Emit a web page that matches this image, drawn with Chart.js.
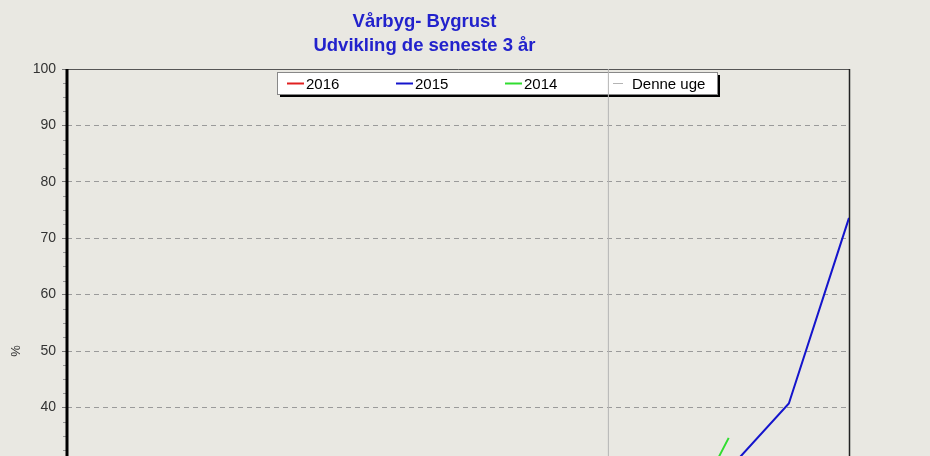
<!DOCTYPE html>
<html>
<head>
<meta charset="utf-8">
<script src="https://cdn.jsdelivr.net/npm/chart.js@4.4.1/dist/chart.umd.min.js"></script>
<style>
    html, body { margin: 0; padding: 0; background: #e9e8e2; overflow: hidden; }
    #wrap { width: 930px; height: 663px; }
</style>
</head>
<body>
<div id="wrap"><canvas id="rustChart" width="930" height="663"></canvas></div>
<script>
    // Uger og angreb i %
    const weeks = [20, 21, 22, 23, 24, 25, 26, 27, 28, 29, 30, 31, 32, 33];
    const values_2016 = [0, 0, 0, 1, 1, 2, 3, 4, 5, 6, null, null, null, null];
    const values_2015 = [0, 0, 1, 2, 3, 5, 7, 9, 12, 16, 22, 29, 40.7, 73.6];
    const values_2014 = [0, 0, 0, 1, 2, 3, 4, 6, 8, 10, 14, 34.6, null, null];
    const this_week = 29;
    const y_ticks = [0, 10, 20, 30, 40, 50, 60, 70, 80, 90, 100];

    function to_points(values) {
        return weeks.map(function (w, i) { return { x: w, y: values[i] }; });
    }

    const font_name = "'Liberation Sans', Arial, sans-serif";

    // Tegner ramme, små tick-mærker og legendeboksen
    const frame_plugin = {
        id: 'frame_plugin',
        beforeDatasetsDraw(chart) {
            const ctx = chart.ctx;
            const a = chart.chartArea;
            const y = chart.scales.y;
            ctx.save();
            // minor ticks
            ctx.strokeStyle = '#999';
            ctx.lineWidth = 1;
            for (let v = 2.5; v < 100; v += 2.5) {
                if (v % 10 === 0) continue;
                const py = Math.round(y.getPixelForValue(v)) + 0.5;
                ctx.beginPath();
                ctx.moveTo(a.left - 4, py);
                ctx.lineTo(a.left, py);
                ctx.stroke();
            }
            // top and right frame
            ctx.strokeStyle = '#555';
            ctx.lineWidth = 1;
            ctx.beginPath();
            ctx.moveTo(a.left, a.top + 0.5);
            ctx.lineTo(a.right + 0.5, a.top + 0.5);
            ctx.stroke();
            ctx.strokeStyle = '#222';
            ctx.lineWidth = 1.5;
            ctx.beginPath();
            ctx.moveTo(a.right + 0.5, a.top);
            ctx.lineTo(a.right + 0.5, a.bottom);
            ctx.stroke();

            // legend box
            const bx = 277, by = 72, bw = 440, bh = 22;
            ctx.fillStyle = '#000';
            ctx.fillRect(bx + 3, by + 3, bw, bh);
            ctx.fillStyle = '#fff';
            ctx.fillRect(bx, by, bw, bh);
            ctx.strokeStyle = '#888';
            ctx.lineWidth = 1;
            ctx.strokeRect(bx + 0.5, by + 0.5, bw, bh);

            const item_x = [287, 396, 505, 613];
            const line_len = [17, 17, 17, 10];
            ctx.font = '15px ' + font_name;
            ctx.textBaseline = 'middle';
            chart.data.datasets.forEach(function (ds, i) {
                const ly = by + 11.5;
                ctx.strokeStyle = ds.borderColor;
                ctx.lineWidth = i === 3 ? 1 : 2;
                ctx.beginPath();
                ctx.moveTo(item_x[i], ly);
                ctx.lineTo(item_x[i] + line_len[i], ly);
                ctx.stroke();
                ctx.fillStyle = '#000';
                ctx.fillText(ds.label, item_x[i] + line_len[i] + (i === 3 ? 9 : 2), ly + 1);
            });
            ctx.restore();
        },
        afterDraw(chart) {
            // solid left axis
            const ctx = chart.ctx;
            const a = chart.chartArea;
            ctx.save();
            ctx.strokeStyle = '#000';
            ctx.lineWidth = 3;
            ctx.beginPath();
            ctx.moveTo(a.left, a.top);
            ctx.lineTo(a.left, a.bottom);
            ctx.stroke();
            ctx.restore();
        }
    };

    new Chart(document.getElementById("rustChart"), {
        type: "line",
        data: {
            datasets: [
                {
                    label: "2016",
                    data: to_points(values_2016),
                    borderColor: "#e02020",
                    borderWidth: 2,
                    pointRadius: 0
                },
                {
                    label: "2015",
                    data: to_points(values_2015),
                    borderColor: "#1414cc",
                    borderWidth: 2,
                    pointRadius: 0
                },
                {
                    label: "2014",
                    data: to_points(values_2014),
                    borderColor: "#30dd30",
                    borderWidth: 2,
                    pointRadius: 0
                },
                {
                    label: "Denne uge",
                    data: [{ x: this_week, y: 0 }, { x: this_week, y: 100 }],
                    borderColor: "#b4b4b4",
                    borderWidth: 1,
                    pointRadius: 0
                }
            ]
        },
        options: {
            responsive: false,
            animation: false,
            layout: { padding: { left: 0, right: 81, top: 0, bottom: 0 } },
            plugins: {
                legend: { display: false },
                tooltip: { enabled: false },
                title: {
                    display: true,
                    text: ["Vårbyg- Bygrust", "Udvikling de seneste 3 år"],
                    color: "#2222cc",
                    font: { family: font_name, size: 18.5, weight: "bold", lineHeight: 24 / 18.5 },
                    padding: { top: 10, bottom: 11 }
                }
            },
            scales: {
                x: {
                    type: "linear",
                    min: weeks[0],
                    max: weeks[weeks.length - 1],
                    grid: { display: false },
                    border: { display: true, color: "#222" },
                    ticks: { stepSize: 1, color: "#333", font: { family: font_name, size: 14 } },
                    afterFit: function (scale) { scale.height = 30; }
                },
                y: {
                    min: 0,
                    max: 100,
                    afterBuildTicks: function (scale) {
                        scale.ticks = y_ticks.map(function (v) { return { value: v }; });
                    },
                    afterFit: function (scale) { scale.width = 67; },
                    grid: {
                        color: function (c) {
                            return (c.tick && (c.tick.value === 0 || c.tick.value === 100)) ? "transparent" : "#9a9a9a";
                        },
                        tickColor: "#777",
                        tickLength: 5,
                        lineWidth: 1
                    },
                    border: { display: false, dash: [5, 4] },
                    ticks: {
                        color: "#333",
                        padding: 6,
                        font: { family: font_name, size: 14 }
                    },
                    title: {
                        display: true,
                        text: "%",
                        color: "#333",
                        font: { family: font_name, size: 13 },
                        padding: { top: 9, bottom: 0 }
                    }
                }
            }
        },
        plugins: [frame_plugin]
    });
</script>
</body>
</html>
